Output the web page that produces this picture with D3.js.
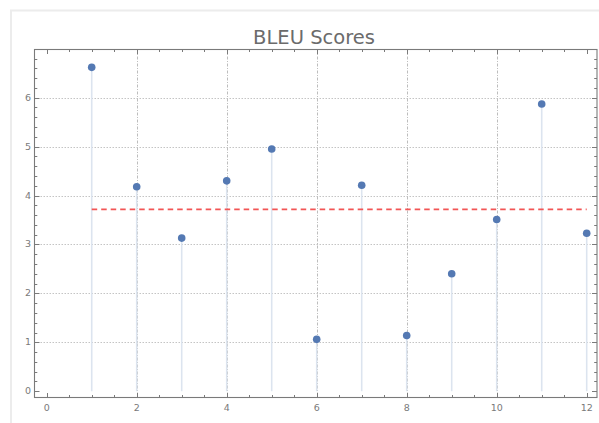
<!DOCTYPE html>
<html>
<head>
<meta charset="utf-8">
<script src="https://cdn.jsdelivr.net/npm/d3@7"></script>
<style>
  html, body { margin: 0; padding: 0; background: #fff; }
  svg { display: block; font-family: "DejaVu Sans", "Noto Sans", sans-serif; }
</style>
</head>
<body>
<svg id="chart" width="599" height="423"></svg>
<script>
const title = "BLEU Scores";
const xValues = [1, 2, 3, 4, 5, 6, 7, 8, 9, 10, 11, 12];
const scores = [6.62, 4.18, 3.13, 4.30, 4.95, 1.06, 4.21, 1.14, 2.40, 3.51, 5.87, 3.23];
const xTicks = [0, 2, 4, 6, 8, 10, 12];
const yTicks = [0, 1, 2, 3, 4, 5, 6];
const xGrid = [2, 4, 6, 8, 10];
const yGrid = [1, 2, 3, 4, 5, 6];

const svg = d3.select("#chart");
const frame = { left: 34.5, right: 597, top: 49.5, bottom: 397.5 };

const x = d3.scaleLinear().domain([0, 12]).range([46.7, 586.7]);
const y = d3.scaleLinear().domain([0, 6]).range([391.2, 97.7]);

// outer panel border
svg.append("rect")
  .attr("x", 11).attr("y", 10.5)
  .attr("width", 600).attr("height", 430)
  .attr("fill", "none").attr("stroke", "#ececec").attr("stroke-width", 2);

// title
svg.append("text")
  .attr("x", 314).attr("y", 44)
  .attr("text-anchor", "middle")
  .attr("font-size", 19.5)
  .attr("fill", "#6b6b6b")
  .text(title);

// grid lines
svg.append("g").selectAll("line").data(yGrid).join("line")
  .attr("x1", frame.left).attr("x2", frame.right)
  .attr("y1", d => Math.round(y(d)) + 0.5).attr("y2", d => Math.round(y(d)) + 0.5)
  .attr("stroke", "#c4c4c4").attr("stroke-width", 1)
  .attr("stroke-dasharray", "1.5,1.5");

svg.append("g").selectAll("line").data(xGrid).join("line")
  .attr("x1", d => Math.round(x(d)) + 0.5).attr("x2", d => Math.round(x(d)) + 0.5)
  .attr("y1", frame.top).attr("y2", frame.bottom)
  .attr("stroke", "#bdbdbd").attr("stroke-width", 1)
  .attr("stroke-dasharray", "3,1.5,1,1.5");

// stems
svg.append("g").selectAll("line").data(xValues).join("line")
  .attr("x1", d => x(d)).attr("x2", d => x(d))
  .attr("y1", y(0)).attr("y2", (d, i) => y(scores[i]))
  .attr("stroke", "#dce4ef").attr("stroke-width", 1.6);

// mean line
const meanVal = d3.mean(scores);
svg.append("line")
  .attr("x1", x(xValues[0])).attr("x2", x(xValues[xValues.length - 1]))
  .attr("y1", y(meanVal)).attr("y2", y(meanVal))
  .attr("stroke", "#f25555").attr("stroke-width", 1.8)
  .attr("stroke-dasharray", "5.5,4");

// points
svg.append("g").selectAll("circle").data(xValues).join("circle")
  .attr("cx", d => x(d)).attr("cy", (d, i) => y(scores[i]))
  .attr("r", 3.8)
  .attr("fill", "#5479b3");

// frame
const fg = svg.append("g").attr("stroke", "#7a7a7a").attr("fill", "none");
fg.append("rect")
  .attr("x", frame.left).attr("y", frame.top)
  .attr("width", frame.right - frame.left).attr("height", frame.bottom - frame.top)
  .attr("stroke-width", 1.1);

// ticks
const xMinor = d3.range(0, 12.01, 0.5);
const yMinor = d3.range(0, 6.99, 0.2);
xMinor.forEach(v => {
  const major = Math.abs(v - Math.round(v / 2) * 2) < 1e-6;
  const len = major ? 4.5 : 2.5;
  const px = Math.round(x(v)) + 0.5;
  fg.append("line").attr("x1", px).attr("x2", px).attr("y1", frame.bottom).attr("y2", frame.bottom - len);
  fg.append("line").attr("x1", px).attr("x2", px).attr("y1", frame.top).attr("y2", frame.top + len);
});
yMinor.forEach(v => {
  const major = Math.abs(v - Math.round(v)) < 1e-6;
  const len = major ? 5 : 2.8;
  const py = Math.round(y(v)) + 0.5;
  fg.append("line").attr("x1", frame.left).attr("x2", frame.left + len).attr("y1", py).attr("y2", py);
  fg.append("line").attr("x1", frame.right).attr("x2", frame.right - len).attr("y1", py).attr("y2", py);
});

// tick labels
svg.append("g").selectAll("text").data(xTicks).join("text")
  .attr("x", d => x(d)).attr("y", 411)
  .attr("text-anchor", "middle")
  .attr("font-size", 9.5).attr("fill", "#7a7a7a")
  .text(d => d);

svg.append("g").selectAll("text").data(yTicks).join("text")
  .attr("x", 31).attr("y", d => y(d) + 3)
  .attr("text-anchor", "end")
  .attr("font-size", 9.5).attr("fill", "#7a7a7a")
  .text(d => d);
</script>
</body>
</html>
